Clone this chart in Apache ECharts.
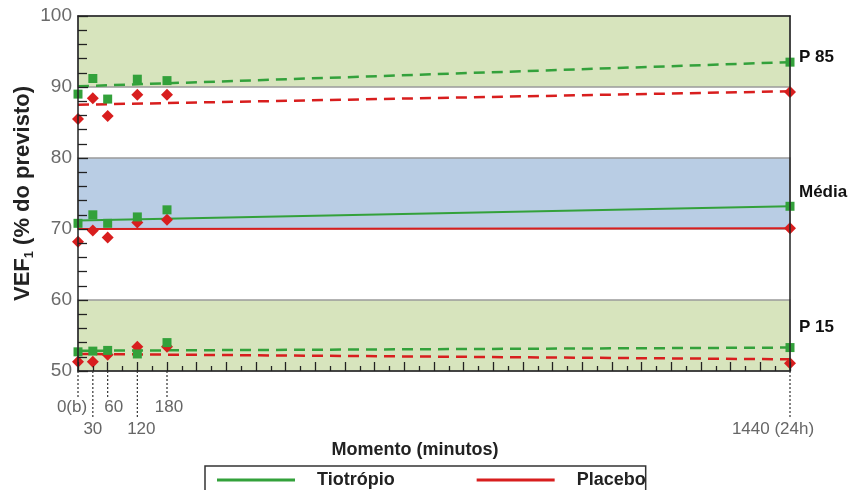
<!DOCTYPE html>
<html>
<head>
<meta charset="utf-8">
<script src="https://cdn.jsdelivr.net/npm/echarts@6/dist/echarts.min.js"></script>
<style>
  html, body { margin: 0; padding: 0; background: #ffffff; }
  #chart { width: 855px; height: 490px; }
</style>
</head>
<body>
<div id="chart"></div>
<script>
// Moments of measurement (minutes after the dose)
const moments = [0, 30, 60, 120, 180, 1440];
const momentLabels = ['0(b)', '30', '60', '120', '180', '1440 (24h)'];

// VEF1 (% do previsto) by group and treatment
const tioP85 = [89.0, 91.2, 88.3, 91.1, 90.9, 93.5];
const plaP85 = [85.5, 88.4, 85.9, 88.9, 88.9, 89.3];
const tioMedia = [70.8, 72.0, 70.8, 71.7, 72.7, 73.2];
const plaMedia = [68.2, 69.8, 68.8, 70.9, 71.3, 70.1];
const tioP15 = [52.7, 52.8, 52.9, 52.4, 54.0, 53.3];
const plaP15 = [51.3, 51.3, 52.3, 53.4, 53.4, 51.1];

// Trend lines: values at the first and last moment
const trendMoments = [0, 1440];
const tioP85Trend = [90.1, 93.5];
const plaP85Trend = [87.5, 89.4];
const tioMediaTrend = [71.2, 73.2];
const plaMediaTrend = [70.0, 70.1];
const tioP15Trend = [52.85, 53.3];
const plaP15Trend = [52.4, 51.65];

// Reference bands and their names
const bandRanges = [[90, 100], [70, 80], [50, 60]];
const groupNames = ['P 85', 'Média', 'P 15'];
const groupNameLevels = [94.2, 75.2, 56.1];

// Layout of the moment labels below the axis
const labelRow = [0, 1, 0, 1, 0, 1];
const labelShift = [-6, 0, 6, 4, 2, -17];

const GREEN = '#33a13b';
const RED = '#d81e1e';
const BAND_GREEN = '#d7e4bd';
const BAND_BLUE = '#b9cde4';
const FONT = '"Liberation Sans", Arial, sans-serif';

const pairs = (xs, ys) => xs.map((x, i) => [x, ys[i]]);

function trend(name, color, values, dashed) {
  return {
    type: 'line', name: name, data: pairs(trendMoments, values),
    symbol: 'none', silent: true, z: 3,
    lineStyle: { color: color, width: dashed ? 2.5 : 2, type: dashed ? [11, 7] : 'solid' },
    itemStyle: { color: color }
  };
}

function points(name, color, values, shape, size) {
  return {
    type: 'scatter', name: name, data: pairs(moments, values),
    symbol: shape, symbolSize: size, silent: true, z: 4,
    itemStyle: { color: color, opacity: 1 }
  };
}

const chart = echarts.init(document.getElementById('chart'), null, { renderer: 'canvas' });

const option = {
  animation: false,
  backgroundColor: '#ffffff',
  textStyle: { fontFamily: FONT },
  grid: { left: 78, right: 65, top: 16, bottom: 119, containLabel: false, outerBoundsMode: 'none' },
  legend: {
    left: 205, top: 466,
    padding: [5, 0, 12, 12],
    borderColor: '#333', borderWidth: 1.5,
    itemWidth: 78, itemHeight: 3, itemGap: 82,
    selectedMode: false,
    textStyle: { fontFamily: FONT, fontWeight: 'bold', fontSize: 18, color: '#222', padding: [0, 0, 0, 17] },
    data: [
      { name: 'Tiotrópio', icon: 'rect', itemStyle: { color: GREEN } },
      { name: 'Placebo', icon: 'rect', itemStyle: { color: RED } }
    ]
  },
  xAxis: [{
    type: 'value', min: 0, max: 1440, interval: 60, z: 6,
    axisLine: { show: true, onZero: false, lineStyle: { color: '#222', width: 1.5 } },
    axisTick: { show: true, inside: true, length: 9, lineStyle: { color: '#222', width: 1.3 } },
    minorTick: { show: true, splitNumber: 2, length: 5, lineStyle: { color: '#222', width: 1.3 } },
    axisLabel: { show: false },
    splitLine: { show: false },
    name: 'Momento (minutos)', nameLocation: 'middle', nameGap: 70, nameMoveOverlap: false,
    nameTextStyle: { fontFamily: FONT, fontWeight: 'bold', fontSize: 18, color: '#222', padding: [0, 38, 0, 0] }
  }, {
    type: 'value', position: 'top', min: 0, max: 1440, z: 6,
    axisLine: { show: true, onZero: false, lineStyle: { color: '#222', width: 1.5 } },
    axisTick: { show: false }, axisLabel: { show: false }, splitLine: { show: false }
  }],
  yAxis: [{
    type: 'value', min: 50, max: 100, interval: 10, z: 6,
    axisLine: { show: true, onZero: false, lineStyle: { color: '#222', width: 1.5 } },
    axisTick: { show: true, inside: true, length: 10, lineStyle: { color: '#222', width: 1.3 } },
    minorTick: { show: true, splitNumber: 5, length: 9, lineStyle: { color: '#222', width: 1.3 } },
    axisLabel: { margin: 6, fontFamily: FONT, fontSize: 19, color: '#6a6a6a' },
    splitLine: { show: false },
    name: '{b|VEF}{s|1}{b| (% do previsto)}', nameLocation: 'middle', nameGap: 42, nameMoveOverlap: false,
    nameTextStyle: {
      rich: {
        b: { fontFamily: FONT, fontWeight: 'bold', fontSize: 22, color: '#222', lineHeight: 26 },
        s: { fontFamily: FONT, fontWeight: 'bold', fontSize: 13, color: '#222', lineHeight: 14, verticalAlign: 'bottom' }
      }
    }
  }, {
    type: 'value', position: 'right', min: 50, max: 100, z: 6,
    axisLine: { show: true, onZero: false, lineStyle: { color: '#222', width: 1.5 } },
    axisTick: { show: false }, axisLabel: { show: false }, splitLine: { show: false }
  }],
  series: [
    // coloured reference bands
    {
      type: 'line', name: 'bands', data: [], silent: true, z: 1,
      markArea: {
        silent: true,
        itemStyle: { borderColor: '#9a9a9a', borderWidth: 1.5 },
        data: bandRanges.map((r, i) => [
          { yAxis: r[0], itemStyle: { color: i === 1 ? BAND_BLUE : BAND_GREEN } },
          { yAxis: r[1] }
        ])
      }
    },
    trend('Tiotrópio', GREEN, tioP85Trend, true),
    trend('Placebo', RED, plaP85Trend, true),
    trend('Tiotrópio', GREEN, tioMediaTrend, false),
    trend('Placebo', RED, plaMediaTrend, false),
    trend('Tiotrópio', GREEN, tioP15Trend, true),
    trend('Placebo', RED, plaP15Trend, true),
    points('Placebo', RED, plaP85, 'diamond', 12),
    points('Tiotrópio', GREEN, tioP85, 'rect', 9),
    points('Placebo', RED, plaMedia, 'diamond', 12),
    points('Tiotrópio', GREEN, tioMedia, 'rect', 9),
    points('Placebo', RED, plaP15, 'diamond', 12),
    points('Tiotrópio', GREEN, tioP15, 'rect', 9),
    // moment labels with dotted drop lines
    {
      type: 'custom', name: 'moments', silent: true, z: 7,
      data: moments.map((m, i) => [m, i]),
      renderItem: function (params, api) {
        const i = api.value(1);
        const p = api.coord([api.value(0), 50]);
        const row = labelRow[i];
        const lineEnd = row === 0 ? 26 : 48;
        const textY = row === 0 ? 36 : 58;
        return {
          type: 'group',
          children: [
            { type: 'line', shape: { x1: p[0], y1: p[1], x2: p[0], y2: p[1] + lineEnd },
              style: { stroke: '#333', lineWidth: 1.2, lineDash: [2, 2] } },
            { type: 'text', x: p[0] + labelShift[i], y: p[1] + textY,
              style: { text: momentLabels[i], align: 'center', verticalAlign: 'middle',
                       fill: '#666', fontSize: 17, fontFamily: FONT } }
          ]
        };
      }
    },
    // group names beside the right edge
    {
      type: 'custom', name: 'groups', silent: true, z: 7,
      data: groupNameLevels.map((v, i) => [1440, v, i]),
      renderItem: function (params, api) {
        const p = api.coord([api.value(0), api.value(1)]);
        return {
          type: 'text', x: p[0] + 9, y: p[1],
          style: { text: groupNames[api.value(2)], align: 'left', verticalAlign: 'middle',
                   fill: '#111', fontSize: 17, fontWeight: 'bold', fontFamily: FONT }
        };
      }
    }
  ]
};

chart.setOption(option);
</script>
</body>
</html>
